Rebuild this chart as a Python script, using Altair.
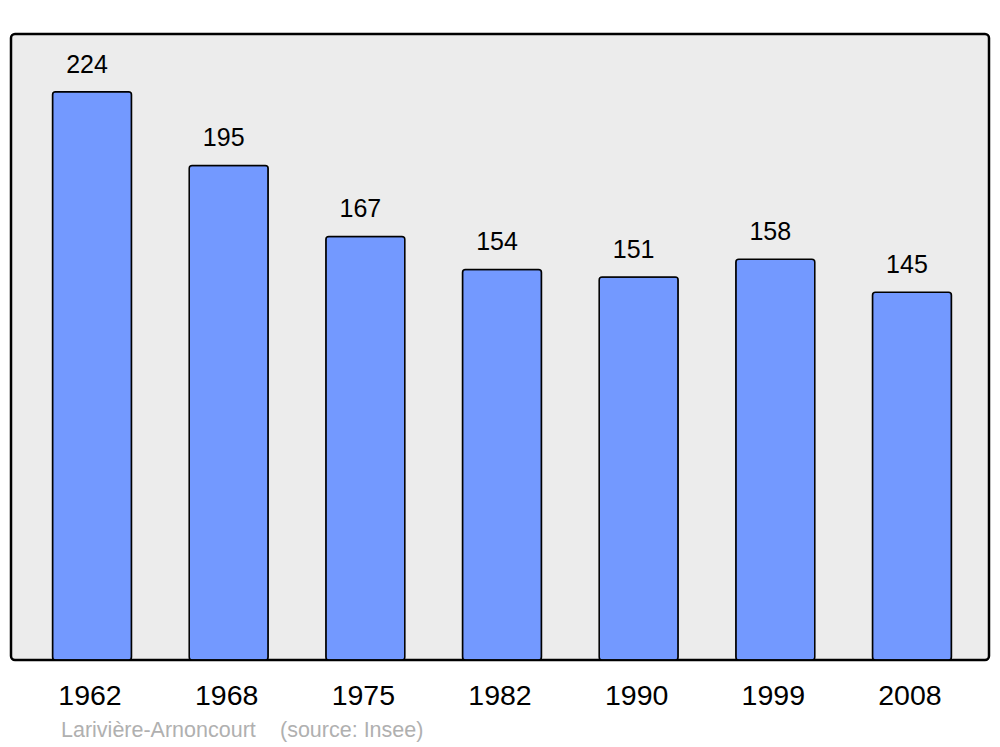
import altair as alt
import pandas as pd

years = ["1962", "1968", "1975", "1982", "1990", "1999", "2008"]
population = [224, 195, 167, 154, 151, 158, 145]
commune = "Larivière-Arnoncourt"
source = "(source: Insee)"

df = pd.DataFrame({"year": years, "pop": population})

FONT = "Liberation Sans"
W, H = 978, 626

x = alt.X("year:N", sort=years, title=None,
          scale=alt.Scale(range=[14.2, 967.8], paddingInner=0.422, paddingOuter=0.2),
          axis=alt.Axis(labelFontSize=28.5, labelFont=FONT, labelColor="black",
                        labelPadding=21, labelOffset=-2, ticks=False, domain=False,
                        labelAngle=0))
y = alt.Y("pop:Q", title=None, scale=alt.Scale(domain=[0, 246.8], nice=False),
          axis=None)

bars = alt.Chart(df).mark_bar(
    color="#7399ff", stroke="black", strokeWidth=1.5, cornerRadius=3
).encode(x=x, y=y)

labels = alt.Chart(df).mark_text(
    font=FONT, fontSize=25, color="black", baseline="alphabetic", dy=-19, dx=-5
).encode(x=alt.X("year:N", sort=years), y="pop:Q", text="pop:Q")

foot1 = alt.Chart(pd.DataFrame({"t": [commune]})).mark_text(
    font=FONT, fontSize=21.5, color="#b0b0b0", align="left", baseline="middle"
).encode(x=alt.value(50), y=alt.value(H + 71), text="t:N")

foot2 = alt.Chart(pd.DataFrame({"t": [source]})).mark_text(
    font=FONT, fontSize=21.5, color="#b0b0b0", align="left", baseline="middle"
).encode(x=alt.value(269), y=alt.value(H + 71), text="t:N")

chart = alt.layer(bars, labels, foot1, foot2).properties(
    width=W, height=H,
    autosize=alt.AutoSizeParams(type="none"),
    padding={"left": 3, "top": 26, "right": 3, "bottom": 100},
).configure(background="white").configure_view(
    fill="#ececec", stroke="black", strokeWidth=2.5, cornerRadius=4
)

chart.save("out.html", embed_options={"renderer": "svg", "actions": False})
